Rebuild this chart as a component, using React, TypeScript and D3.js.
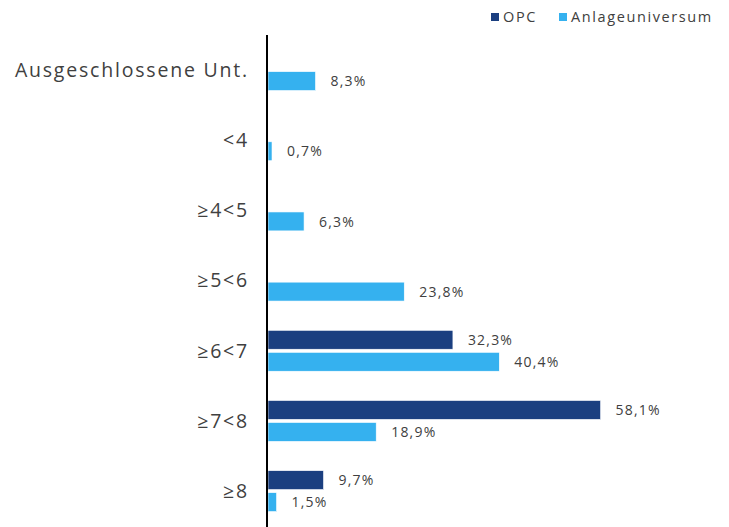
import React from "react";
import * as d3 from "d3";

const categories = ["Ausgeschlossene Unt.", "<4", "≥4<5", "≥5<6", "≥6<7", "≥7<8", "≥8"];
const seriesNames = ["OPC", "Anlageuniversum"];
const opcValues: (number | null)[] = [null, null, null, null, 32.3, 58.1, 9.7];
const anlageValues: (number | null)[] = [8.3, 0.7, 6.3, 23.8, 40.4, 18.9, 1.5];
const seriesColors = ["#1b3f80", "#35b1ef"];

const W = 729;
const H = 527;
const FONT = "'Open Sans', sans-serif";
const TEXT = "#404040";

export default function App() {
  const x = d3.scaleLinear().domain([0, 100]).range([268, 268 + 572.5]);
  const y = d3.scalePoint<string>().domain(categories).range([35, 526.2]).padding(0.5);
  const inner = d3.scaleBand<string>().domain(seriesNames).range([-22, 22]).paddingInner(0.14).paddingOuter(0.07);
  const fmt = (v: number) => d3.format(".1f")(v).replace(".", ",") + "%";
  const data = [opcValues, anlageValues];

  return (
    <svg width={W} height={H} style={{ position: "absolute", left: 0, top: 0, display: "block" }} fontFamily={FONT}>
      <rect width={W} height={H} fill="#fff" />
      {/* legend */}
      <g>
        <rect x={491} y={13} width={8} height={8} fill={seriesColors[0]} />
        <text x={503} y={21.5} fontSize={14.5} fill={TEXT} letterSpacing={1.6}>{seriesNames[0]}</text>
        <rect x={559} y={13} width={8} height={8} fill={seriesColors[1]} />
        <text x={571} y={21.5} fontSize={14.5} fill={TEXT} letterSpacing={1.6}>{seriesNames[1]}</text>
      </g>
      {/* category labels */}
      {categories.map((c) => (
        <text key={c} x={249} y={y(c)!} dy="0.35em" textAnchor="end" fontSize={19.5} fill={TEXT} letterSpacing={1.8}>
          {c}
        </text>
      ))}
      {/* bars */}
      {data.map((vals, si) =>
        vals.map((v, i) => {
          if (v == null) return null;
          const cy = y(categories[i])! + inner(seriesNames[si])!;
          return (
            <g key={`${si}-${i}`}>
              <rect x={x(0)} y={cy} width={x(v) - x(0)} height={inner.bandwidth()} fill={seriesColors[si]} stroke="#fff" strokeWidth={0.6} />
              <text x={x(v) + 15} y={cy + inner.bandwidth() / 2} dy="0.37em" fontSize={14} fill={TEXT} letterSpacing={1.2}>
                {fmt(v)}
              </text>
            </g>
          );
        })
      )}
      {/* axis */}
      <line x1={267} x2={267} y1={35} y2={527} stroke="#000" strokeWidth={2} />
    </svg>
  );
}
